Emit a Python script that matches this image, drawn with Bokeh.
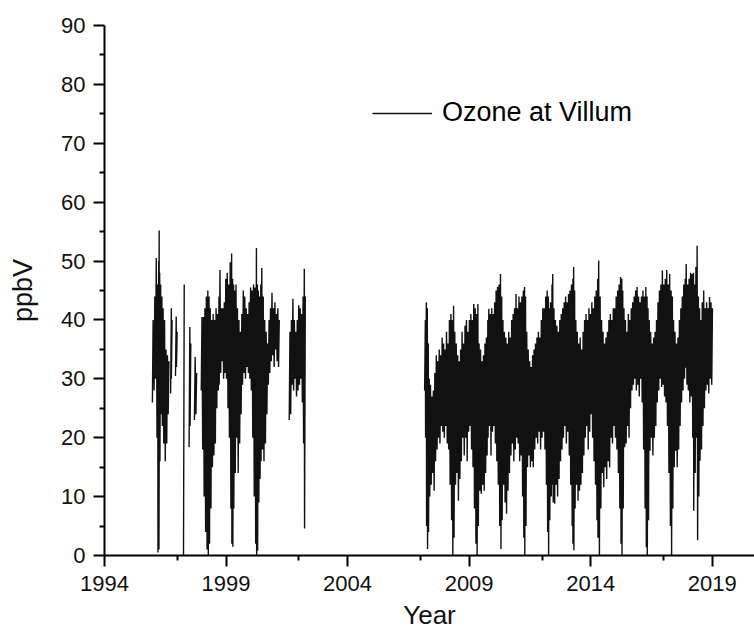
import numpy as np
from bokeh.plotting import figure
from bokeh.models import Range1d, FixedTicker, Legend, LegendItem
from bokeh.embed import file_html
from bokeh.resources import INLINE

NaN = float("nan")

# ---- data (ozone at Villum, ppbV): per time step, low and high of the trace ----
t_early = [1995.97, 1996.04, 1996.10, 1996.16, 1996.20, 1996.22, 1996.24, 1996.28, 1996.33, 1996.38,
           1996.44, 1996.50, 1996.56, 1996.62, 1996.67, 1996.72, 1996.75, 1996.84, 1996.92, 1996.96,
           1997.10, 1997.25, 1997.38, 1997.48, 1997.52, 1997.60, 1997.70, 1997.76, 1997.88, 1997.98,
           1998.04, 1998.10, 1998.16, 1998.22, 1998.27, 1998.32, 1998.38, 1998.44, 1998.50, 1998.56,
           1998.62, 1998.68, 1998.72, 1998.78, 1998.84, 1998.90, 1998.96, 1999.02, 1999.08, 1999.14,
           1999.20, 1999.24, 1999.28, 1999.32, 1999.38, 1999.44, 1999.50, 1999.56, 1999.62, 1999.68,
           1999.74, 1999.80, 1999.86, 1999.92, 1999.98, 2000.04, 2000.10, 2000.16, 2000.22, 2000.26,
           2000.30, 2000.35, 2000.40, 2000.44, 2000.50, 2000.56, 2000.62, 2000.68, 2000.74, 2000.80,
           2000.86, 2000.92, 2000.98, 2001.04, 2001.10, 2001.16, 2001.40, 2001.60, 2001.66, 2001.72,
           2001.78, 2001.84, 2001.90, 2001.96, 2002.02, 2002.08, 2002.14, 2002.19, 2002.23]
hi_early = [40, 44, 50.5, 46, 50, 55.2, 48, 46, 44, 42,
            40, 35, 34, 33, NaN, 42, 40, NaN, 40.6, 38,
            NaN, 46, NaN, 38.8, 36, NaN, 33.7, 31, NaN, 40.5,
            40.5, 42, 44, 45, 44, 42, 40, 41, 40, 42,
            41, 44, 48.5, 42, 42, 43, 47, 48, 46, 49.8,
            51.3, 47, 46, 45, 46, 42, 40, 38, 41, 45,
            44, 42, 41, 43, 45.5, 45, 46, 45.5, 52.2, 46,
            45, 44, 46, 48.8, 44, 40, 38, 36, 40, 42,
            44.6, 42, 43, 41, 42, 40, NaN, 38, 40, 43.6,
            40, 38, 40, 42.5, 42, 41, 44, 48.7, 44]
lo_early = [26, 28, 30, 20, 0.5, 8, 1, 16, 24, 22,
            19, 16, 19, 24, NaN, 27.5, 30, NaN, 30.5, 32,
            NaN, 0, NaN, 18.4, 22, NaN, 23, 24, NaN, 28,
            18, 10, 4, 1, 0, 2, 8, 15, 17, 19,
            25, 28, 29, 31, 33, 30, 31, 30, 25, 20,
            8, 2, 1.5, 8, 14, 20, 14, 19, 24, 29,
            31, 30, 32, 31, 30, 28, 20, 10, 2, 0,
            0.8, 9, 13, 16, 18, 16, 19, 24, 29, 31,
            33, 34, 32, 35, 33, 32, NaN, 23, 24, 29,
            28, 30, 27, 28, 29, 30, 26, 19, 4.6]

t_late = [2007.17, 2007.21, 2007.25, 2007.29, 2007.33, 2007.38, 2007.44, 2007.50, 2007.56, 2007.62,
          2007.68, 2007.74, 2007.80, 2007.86, 2007.92, 2007.98, 2008.04, 2008.10, 2008.16, 2008.22,
          2008.28, 2008.33, 2008.38, 2008.44, 2008.50, 2008.56, 2008.62, 2008.68, 2008.74, 2008.80,
          2008.86, 2008.92, 2008.98, 2009.04, 2009.10, 2009.16, 2009.22, 2009.28, 2009.33, 2009.38,
          2009.44, 2009.50, 2009.56, 2009.62, 2009.68, 2009.74, 2009.78, 2009.84, 2009.90, 2009.96,
          2010.02, 2010.08, 2010.14, 2010.20, 2010.26, 2010.31, 2010.36, 2010.42, 2010.48, 2010.54,
          2010.60, 2010.66, 2010.72, 2010.78, 2010.84, 2010.90, 2010.96, 2011.02, 2011.08, 2011.14,
          2011.20, 2011.25, 2011.29, 2011.34, 2011.40, 2011.46, 2011.52, 2011.58, 2011.64, 2011.70,
          2011.76, 2011.82, 2011.88, 2011.94, 2012.00, 2012.06, 2012.12, 2012.18, 2012.23, 2012.27,
          2012.32, 2012.38, 2012.41, 2012.46, 2012.52, 2012.58, 2012.64, 2012.70, 2012.76, 2012.82,
          2012.88, 2012.94, 2013.00, 2013.06, 2013.12, 2013.18, 2013.24, 2013.27, 2013.31, 2013.36,
          2013.42, 2013.48, 2013.54, 2013.60, 2013.66, 2013.72, 2013.78, 2013.84, 2013.90, 2013.96,
          2014.02, 2014.08, 2014.14, 2014.20, 2014.26, 2014.30, 2014.36, 2014.42, 2014.48, 2014.54,
          2014.60, 2014.66, 2014.72, 2014.78, 2014.84, 2014.90, 2014.96, 2015.02, 2015.08, 2015.14,
          2015.20, 2015.25, 2015.29, 2015.34, 2015.40, 2015.46, 2015.52, 2015.58, 2015.64, 2015.70,
          2015.76, 2015.82, 2015.88, 2015.94, 2016.00, 2016.06, 2016.12, 2016.18, 2016.24, 2016.29,
          2016.33, 2016.38, 2016.44, 2016.50, 2016.56, 2016.62, 2016.68, 2016.74, 2016.80, 2016.86,
          2016.92, 2016.98, 2017.04, 2017.10, 2017.16, 2017.22, 2017.28, 2017.33, 2017.38, 2017.44,
          2017.50, 2017.56, 2017.62, 2017.68, 2017.74, 2017.80, 2017.86, 2017.90, 2017.96, 2018.02,
          2018.08, 2018.14, 2018.20, 2018.24, 2018.30, 2018.35, 2018.40, 2018.45, 2018.50, 2018.56,
          2018.62, 2018.68, 2018.74, 2018.80, 2018.86, 2018.92, 2018.98]
hi_late = [40, 43, 42, 36, 30, 29, 27, 28, 31, 34,
           33, 35, 34, 37, 36, 35, 38, 36, 40, 41,
           40, 42.4, 38, 36, 34, 33, 35, 38, 36, 39,
           40, 38, 40, 41, 40, 42.7, 42, 41, 42.7, 36,
           35, 33, 34, 36, 37, 40, 41.9, 41, 42, 41,
           43, 45, 45.6, 46, 47.8, 44, 40, 38, 37, 36,
           38, 37, 40, 41, 42, 44.4, 42, 44, 43, 44,
           45, 45.6, 44, 38, 35, 33, 32, 34, 35, 36,
           37, 38, 37, 40, 42, 42, 44, 45, 44, 42,
           43, 46, 47.8, 42, 40, 39, 38, 40, 41, 42,
           43, 44, 43, 44.4, 45, 46, 47, 49, 45, 40,
           38, 36, 37, 35, 38, 40, 41, 40, 42, 41,
           43, 42, 44, 45, 47, 50.1, 44, 40, 38, 36,
           37, 38, 40, 41, 40, 42, 42, 44, 45, 46,
           47.3, 47, 45, 42, 40, 38, 41, 40, 42, 43,
           44, 45, 45.6, 44, 43, 44, 45, 44, 45.6, 44,
           42, 40, 38, 36, 37, 38, 40, 43, 45, 46,
           48.4, 46, 47, 48.5, 46, 47.8, 45, 44, 40, 38,
           36, 37, 40, 42, 44, 46, 47, 49.5, 46, 47,
           48, 47.8, 48, 46, 49, 52.6, 44, 42, 40, 43,
           45, 42, 43, 42, 43.9, 43, 42]
lo_late = [28, 20, 5, 1.1, 4, 10, 12, 14, 11, 16,
           18, 20, 19, 22, 21, 20, 22, 19, 18, 12,
           6, 0, 3, 12, 14, 9.3, 13, 16, 20, 17,
           20, 16, 21, 22, 18, 15, 8, 2, 0, 5,
           11, 10.5, 12, 11, 14, 17, 20, 22, 17, 21,
           22, 19, 16, 12, 5, 1.1, 6, 12, 9, 7.1,
           11, 14, 17, 19, 16, 18, 20, 19, 16, 17,
           10, 3, 0, 5, 15, 17, 15, 16, 15, 18,
           20, 19, 21, 18, 20, 21, 18, 12, 4, 0,
           6, 10, 12, 9, 8.8, 12, 10, 13, 16, 18,
           20, 22, 19, 21, 17, 12, 5, 2, 0.9, 8,
           12, 9.3, 11, 12, 14, 17, 20, 22, 18, 21,
           24, 20, 16, 12, 6, 3, 0, 8, 14, 11.6,
           15, 13, 16, 15, 20, 19, 22, 20, 18, 14,
           8, 2, 0, 8, 18.4, 19, 22, 20, 25, 28,
           29, 30, 28, 29, 27, 30, 26, 18, 8, 1.4,
           0, 6, 17.8, 20, 17, 20, 22, 26, 28, 30,
           28.6, 29, 27, 26, 22, 14, 5, 0, 8, 15,
           17.8, 15, 18, 22, 26, 28, 30, 31.9, 29, 28,
           26, 27, 20, 7.6, 14, 20, 2.6, 10, 16.1, 18,
           22, 25, 28, 29, 27.5, 30, 29]

x_major = [1994, 1999, 2004, 2009, 2014, 2019]
x_minor = [1997, 2002, 2007, 2012, 2017]
y_major = [0, 10, 20, 30, 40, 50, 60, 70, 80, 90]
y_minor = [5, 15, 25, 35, 45, 55, 65, 75, 85]


def zigzag(t, lo, hi, half_step=0.03):
    xs, ys = [], []
    for ti, l, h in zip(t, lo, hi):
        xs += [ti, ti + half_step]
        ys += [l, h]
    return np.array(xs, dtype=float), np.array(ys, dtype=float)


t_all = t_early + [2004.5] + t_late
lo_all = lo_early + [NaN] + lo_late
hi_all = hi_early + [NaN] + hi_late
xs, ys = zigzag(t_all, lo_all, hi_all)

FONT = "Liberation Sans"

p = figure(width=754, height=633,
           x_range=Range1d(1994, 2020.74), y_range=Range1d(0, 90),
           output_backend="svg", toolbar_location=None,
           min_border_left=104, min_border_right=0, min_border_top=25, min_border_bottom=78)
p.outline_line_color = None
p.background_fill_color = "white"
p.border_fill_color = "white"
p.xgrid.visible = False
p.ygrid.visible = False

r = p.line(xs, ys, line_color="#111111", line_width=1.4)

legend = Legend(items=[LegendItem(label="Ozone at Villum", renderers=[r])],
                location=(268, 427), border_line_color=None, background_fill_alpha=0,
                padding=0, margin=0, spacing=0, glyph_width=60, glyph_height=30,
                label_standoff=10, label_text_font=FONT, label_text_font_size="27px",
                label_text_color="black", label_height=30)
p.add_layout(legend)

for ax in (p.xaxis[0], p.yaxis[0]):
    ax.axis_line_width = 2
    ax.axis_line_color = "black"
    ax.major_tick_line_width = 2
    ax.minor_tick_line_width = 2
    ax.major_tick_line_color = "black"
    ax.minor_tick_line_color = "black"
    ax.major_tick_in = 0
    ax.major_tick_out = 11
    ax.minor_tick_in = 0
    ax.minor_tick_out = 5
    ax.major_label_text_font = FONT
    ax.major_label_text_font_size = "22px"
    ax.major_label_text_color = "#111111"
    ax.axis_label_text_font = FONT
    ax.axis_label_text_font_style = "normal"
    ax.axis_label_text_color = "#111111"

p.xaxis.ticker = FixedTicker(ticks=x_major, minor_ticks=x_minor)
p.yaxis.ticker = FixedTicker(ticks=y_major, minor_ticks=y_minor)
p.xaxis.axis_label = "Year"
p.yaxis.axis_label = "ppbV"
p.xaxis.axis_label_text_font_size = "26px"
p.yaxis.axis_label_text_font_size = "27px"
p.xaxis.major_label_standoff = 9
p.xaxis.axis_label_standoff = 6
p.yaxis.major_label_standoff = 8
p.yaxis.axis_label_standoff = 20

open("out.html", "w").write(file_html(p, INLINE))
